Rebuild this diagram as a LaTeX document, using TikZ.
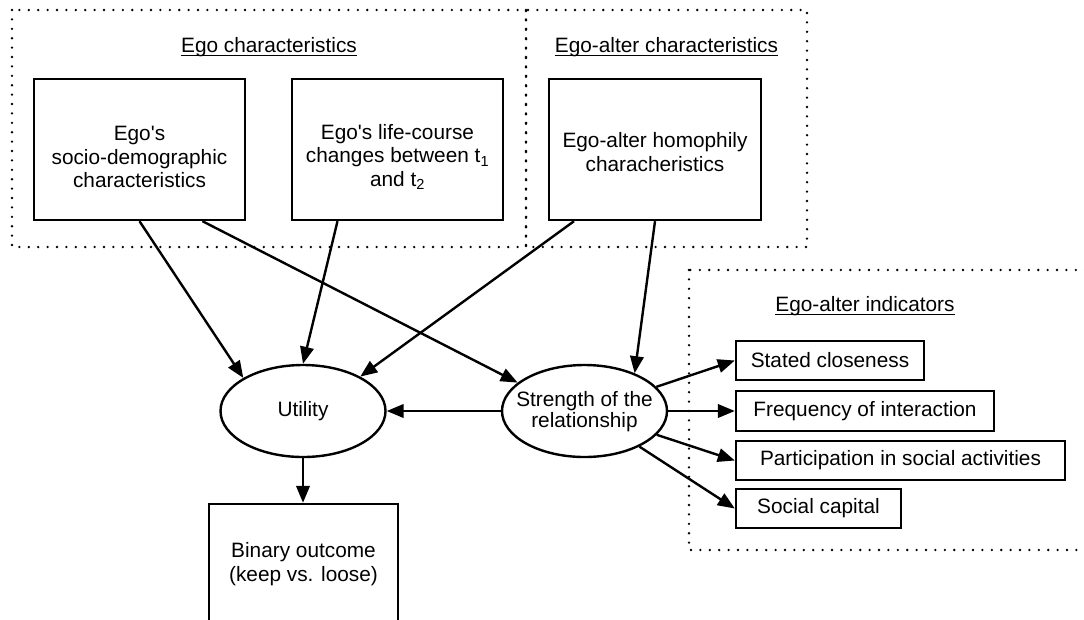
\documentclass[tikz,border=0pt]{standalone}
\usepackage{fontspec}
\setmainfont{Liberation Sans}
\usetikzlibrary{shapes.geometric,arrows.meta}
\begin{document}
\begin{tikzpicture}[x=1pt,y=-1pt,
  box/.style={draw,line width=2.4pt,rectangle,inner sep=0pt},
  oval/.style={draw,line width=2.4pt,ellipse,inner sep=0pt,minimum width=165pt,minimum height=92pt},
  lbl/.style={align=center,inner sep=0pt,font=\fontsize{20.8}{23.5}\selectfont},
  olbl/.style={align=center,inner sep=0pt,font=\fontsize{20.8}{21}\selectfont},
  ttl/.style={inner sep=0pt,font=\fontsize{20.8}{24}\selectfont},
  uline/.style={line width=1.2pt},
  grp/.style={line width=2.6pt,line cap=round,dash pattern=on 0pt off 9.4pt},
  arr/.style={line width=2.4pt,-{Triangle[length=17pt,width=13.5pt]}},
]
\useasboundingbox (0,0) rectangle (1084,619);
\clip (0,0) rectangle (1084,619);
\fill[white] (0,0) rectangle (1084,619);

% group frames
\draw[grp] (12,10) rectangle (526,247);
\draw[grp] (526,10) rectangle (807,247);
\draw[grp] (689,270) rectangle (1110,550);

% titles
\node[ttl] (t1) at (269,47) {Ego characteristics};
\draw[uline] ([yshift=-3pt]t1.base west) -- ([yshift=-3pt]t1.base east);
\node[ttl] (t2) at (666.5,47) {Ego-alter characteristics};
\draw[uline] ([yshift=-3pt]t2.base west) -- ([yshift=-3pt]t2.base east);
\node[ttl] (t3) at (865,306) {Ego-alter indicators};
\draw[uline] ([yshift=-3pt]t3.base west) -- ([yshift=-3pt]t3.base east);

% boxes
\node[box,minimum width=211pt,minimum height=141pt] (socio) at (139.5,149.5) {};
\node[lbl] (sociot) at (139.5,157) {Ego\textquotesingle s\\socio-demographic\\characteristics};
\node[box,minimum width=211pt,minimum height=141pt] (life) at (397.5,149.5) {};
\node[lbl] (lifet) at (397.5,157) {Ego\textquotesingle s life-course\\changes between t\textsubscript{1}\\and t\textsubscript{2}};
\node[box,minimum width=212pt,minimum height=141pt] (homo) at (655,149.5) {};
\node[lbl] (homot) at (655,152) {Ego-alter homophily\\characheristics};

\node[oval] (util) at (303,411) {};
\node[olbl] (utilt) at (303,411) {Utility};
\node[oval] (str) at (584.5,411) {};
\node[olbl] (strt) at (584.5,412) {Strength of the\\relationship};

\node[box,minimum width=189pt,minimum height=120pt] (bin) at (303.5,564) {};
\node[lbl] (bint) at (303.5,564) {Binary outcome\\(keep vs. loose)};

\node[box,lbl,minimum width=188pt,minimum height=39pt] (sc) at (830,360.5) {Stated closeness};
\node[box,lbl,minimum width=258pt,minimum height=40pt] (fq) at (865,411) {Frequency of interaction};
\node[box,lbl,minimum width=329pt,minimum height=39pt] (pa) at (900.5,460.5) {Participation in social activities};
\node[box,lbl,minimum width=165pt,minimum height=39pt] (cap) at (818.5,508.5) {Social capital};

% connectors
\draw[arr] (socio.south) -- (util.151);
\draw[arr] ([xshift=63pt]socio.south) -- (str.157);
\draw[arr] ([xshift=-60pt]life.south) -- (util.90);
\draw[arr] ([xshift=-81pt]homo.south) -- (util.31);
\draw[arr] (homo.south) -- (str.37);
\draw[arr] (str) -- (util);
\draw[arr] (util.south) -- (util.south |- bin.north);
\draw[arr] (str) -- (sc.west);
\draw[arr] (str) -- (fq.west);
\draw[arr] (str) -- (pa.west);
\draw[arr] (str) -- (cap.west);
\end{tikzpicture}
\end{document}
